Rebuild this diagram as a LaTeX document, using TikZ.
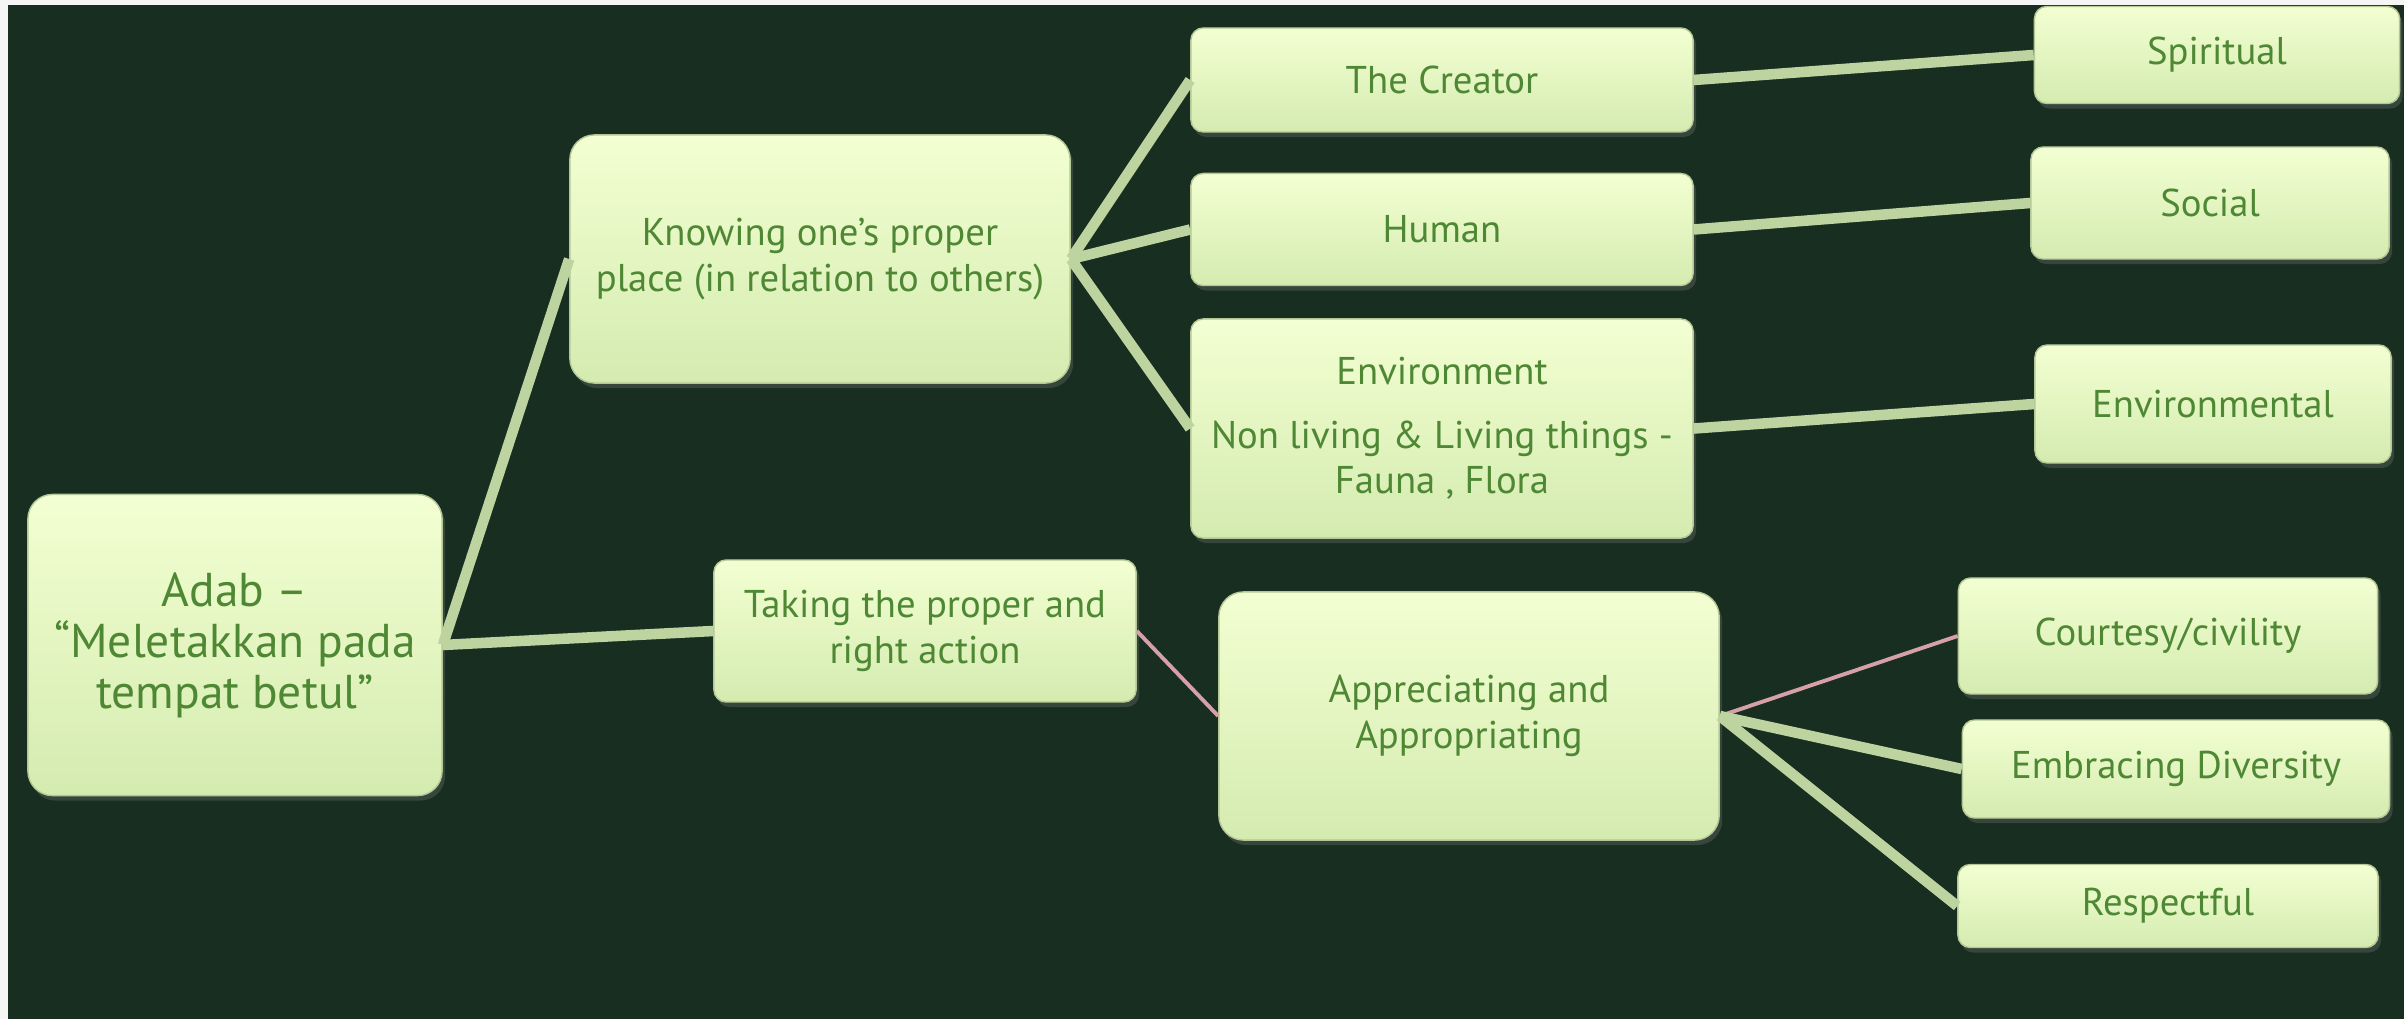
\documentclass[tikz,border=0pt]{standalone}
\usepackage{fontspec}
\setmainfont{PT Sans}
\usetikzlibrary{positioning, shadows}

\definecolor{boardbg}{RGB}{24,46,32}
\definecolor{boxtop}{RGB}{243,255,210}
\definecolor{boxbot}{RGB}{212,235,176}
\definecolor{boxtext}{RGB}{79,136,52}
\definecolor{linkgreen}{RGB}{190,212,160}
\definecolor{linkpink}{RGB}{214,160,168}

\begin{document}
\begin{tikzpicture}[x=0.01cm, y=-0.01cm]
  % Board behind the map
  \fill[white!92!gray] (0,0) rectangle (2404,1019);
  \fill[boardbg] (8,5) rectangle (2404,1019);
  \useasboundingbox (0,0) rectangle (2404,1019);

  % Define style for the boxes
  \tikzstyle{box}=[rounded corners=3.5pt, draw=boxbot!85!black, line width=0.4pt,
    top color=boxtop, bottom color=boxbot, text=boxtext, align=center, inner sep=2pt,
    drop shadow={shadow xshift=0.3mm, shadow yshift=-0.5mm, opacity=0.3},
    font=\fontsize{11}{13}\selectfont]
  \tikzstyle{bigbox}=[box, rounded corners=7pt]

  % Root and first level
  \node[bigbox, minimum width=4.14cm, minimum height=3.01cm, font=\fontsize{13.5}{14.5}\selectfont]
    (adab) at (235,645) {Adab --\\``Meletakkan pada\\tempat betul''};
  \node[bigbox, minimum width=5cm, minimum height=2.48cm]
    (knowing) at (820,259) {Knowing one's proper\\place (in relation to others)};
  \node[box, minimum width=4.22cm, minimum height=1.42cm]
    (taking) at (925,631) {Taking the proper and\\right action};

  % Second level
  \node[box, minimum width=5.02cm, minimum height=1.04cm]
    (creator) at (1442,80) {The Creator};
  \node[box, minimum width=5.02cm, minimum height=1.12cm, below=0.4cm of creator]
    (human) {Human};
  \node[box, minimum width=5.02cm, minimum height=2.19cm, below=0.32cm of human]
    (envir) {Environment\\[5pt]Non living \& Living things -\\Fauna , Flora};
  \node[bigbox, minimum width=5cm, minimum height=2.48cm]
    (apprec) at (1469,716) {Appreciating and\\Appropriating};

  % Third level
  \node[box, minimum width=3.65cm, minimum height=0.97cm]
    (spirit) at (2217,55) {Spiritual};
  \node[box, minimum width=3.58cm, minimum height=1.12cm]
    (social) at (2210,203) {Social};
  \node[box, minimum width=3.56cm, minimum height=1.18cm]
    (envtal) at (2213,404) {Environmental};
  \node[box, minimum width=4.19cm, minimum height=1.16cm]
    (courtesy) at (2168,636) {Courtesy/civility};
  \node[box, minimum width=4.27cm, minimum height=0.98cm]
    (diverse) at (2176,769) {Embracing Diversity};
  \node[box, minimum width=4.2cm, minimum height=0.83cm]
    (respect) at (2168,906) {Respectful};

  % Define the style for the links
  \tikzstyle{link}=[draw, linkgreen, line width=3pt]
  \tikzstyle{thinlink}=[draw, linkpink, line width=1.1pt]

  % Links
  \draw[link] (adab.east) -- (knowing.west);
  \draw[link] (adab.east) -- (taking.west);
  \draw[link] (knowing.east) -- (creator.west);
  \draw[link] (knowing.east) -- (human.west);
  \draw[link] (knowing.east) -- (envir.west);
  \draw[link] (creator.east) -- (spirit.west);
  \draw[link] (human.east) -- (social.west);
  \draw[link] (envir.east) -- (envtal.west);
  \draw[thinlink] (taking.east) -- (apprec.west);
  \draw[thinlink] (apprec.east) -- (courtesy.west);
  \draw[link] (apprec.east) -- (diverse.west);
  \draw[link] (apprec.east) -- (respect.west);
\end{tikzpicture}
\end{document}
